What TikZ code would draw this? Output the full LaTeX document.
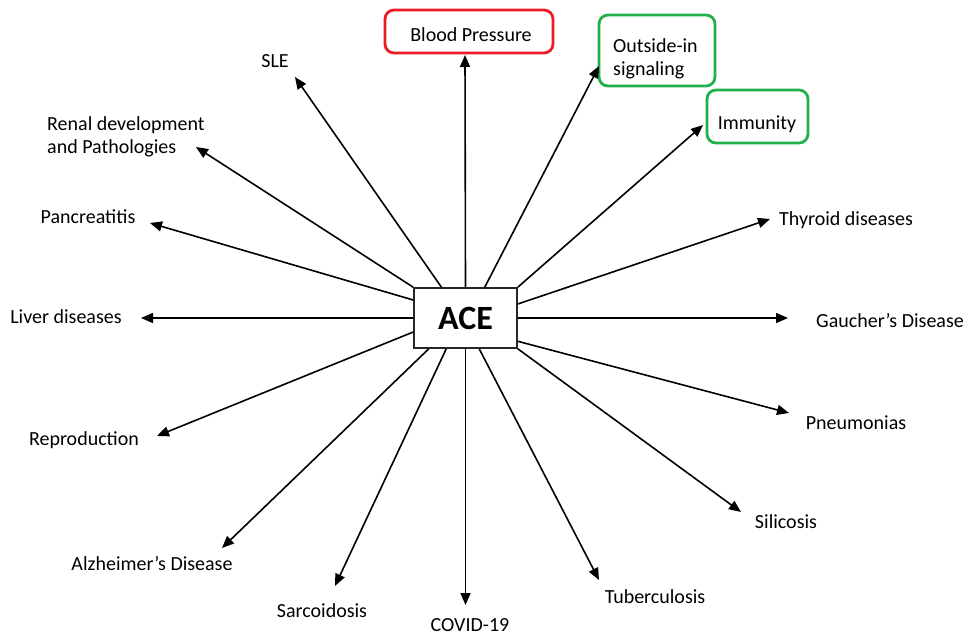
\documentclass[tikz,border=0pt]{standalone}
\usepackage{fontspec}
\setmainfont{Carlito}
\usetikzlibrary{arrows.meta}
\definecolor{boxred}{RGB}{237,28,36}
\definecolor{boxgreen}{RGB}{35,175,75}
\begin{document}
\begin{tikzpicture}[x=1pt,y=-1pt,
  lbl/.style={font=\fontsize{20}{24}\selectfont, inner sep=0pt, text height=13pt, text depth=4pt, yshift=-2.5pt},
  mlbl/.style={font=\fontsize{20}{23}\selectfont, inner sep=0pt, align=left, yshift=-2.5pt},
  conn/.style={line width=1.6pt, -{Triangle[length=12pt,width=10pt]}},
  redbox/.style={draw=boxred, line width=2.8pt, rounded corners=9pt, inner sep=0pt},
  greenbox/.style={draw=boxgreen, line width=2.8pt, rounded corners=9pt, inner sep=0pt},
]
\useasboundingbox (0,0) rectangle (966,637);
\fill[white] (0,0) rectangle (966,637);

% central node
\node[draw=black!85, line width=1.6pt, minimum width=103pt, minimum height=60pt, inner sep=0pt,
      font=\fontsize{34}{36}\selectfont\bfseries] (ace) at (465.5,318) {ACE};

% boxed labels
\node[redbox, minimum width=168pt, minimum height=43pt] (bpbox) at (469,31.5) {};
\node[lbl] (bp) at (471,34) {Blood Pressure};
\node[greenbox, minimum width=116pt, minimum height=71pt] (oibox) at (657,50.5) {};
\node[mlbl, anchor=west] (oi) at (613,56) {Outside-in\\signaling};
\node[greenbox, minimum width=101pt, minimum height=53pt] (immbox) at (757.5,116.5) {};
\node[lbl] (imm) at (757,122) {Immunity};

% plain labels
\node[lbl] (sle) at (275,60) {SLE};
\node[mlbl, anchor=west] (ren) at (47,134) {Renal development\\and Pathologies};
\node[lbl] (pan) at (88,216) {Pancreatitis};
\node[lbl] (liv) at (66,316) {Liver diseases};
\node[lbl] (rep) at (84,438) {Reproduction};
\node[lbl] (alz) at (152,563) {Alzheimer’s Disease};
\node[lbl] (sar) at (322,610) {Sarcoidosis};
\node[lbl, text depth=0pt] (cov) at (470,622) {COVID-19};
\node[lbl] (tub) at (655,596) {Tuberculosis};
\node[lbl] (sil) at (786,521) {Silicosis};
\node[lbl] (pne) at (856,422) {Pneumonias};
\node[lbl, anchor=west] (gau) at (816,320) {Gaucher’s Disease};
\node[lbl, anchor=west] (thy) at (779,218) {Thyroid diseases};

% arrow tip coordinates
\coordinate (tRen) at (196,147);
\coordinate (tSle) at (295,77);
\coordinate (tBp)  at (465,55);
\coordinate (tOi)  at (599,66);
\coordinate (tImm) at (703,125);
\coordinate (tThy) at (770,219);
\coordinate (tGau) at (788,318);
\coordinate (tPne) at (789,413);
\coordinate (tSil) at (741,512);
\coordinate (tTub) at (599,580);
\coordinate (tCov) at (465.5,605);
\coordinate (tSar) at (335,586);
\coordinate (tAlz) at (222,548);
\coordinate (tRep) at (157,436);
\coordinate (tLiv) at (141,318);
\coordinate (tPan) at (150,223);

% connectors
\draw[conn] (ace.north west) -- (tRen);
\draw[conn] (ace.128) -- (tSle);
\draw[conn] (ace.north) -- (tBp);
\draw[conn] (ace.58) -- (tOi);
\draw[conn] (ace.north east) -- (tImm);
\draw[conn] (ace.15) -- (tThy);
\draw[conn] (ace.east) -- (tGau);
\draw[conn] (ace.-24) -- (tPne);
\draw[conn] (ace.south east) -- (tSil);
\draw[conn] (ace.-66) -- (tTub);
\draw[conn] (ace.south) -- (tCov);
\draw[conn] (ace.-122) -- (tSar);
\draw[conn] (ace.-140) -- (tAlz);
\draw[conn] (ace.195) -- (tRep);
\draw[conn] (ace.west) -- (tLiv);
\draw[conn] (ace.161) -- (tPan);
\end{tikzpicture}
\end{document}
